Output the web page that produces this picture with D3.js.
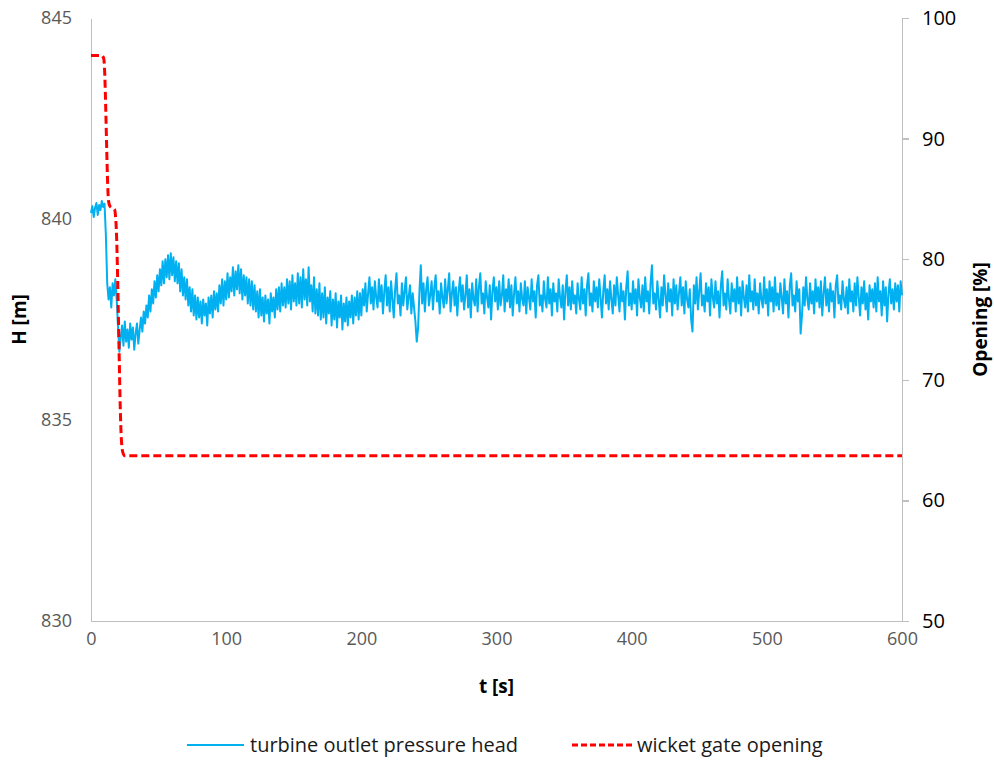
<!DOCTYPE html>
<html lang="en">
<head>
<meta charset="utf-8">
<title>Turbine outlet pressure head</title>
<script type="text/javascript" src="https://cdn.jsdelivr.net/npm/d3@7/dist/d3.min.js"></script>
<style type="text/css">
	body { margin: 0; background-color: white; }
	svg text { font-family: "Open Sans", sans-serif; }
	.axis path, .axis line { stroke: #bfbfbf; stroke-width: 1.5; shape-rendering: crispEdges; }
	.left text, .bottom text { fill: #595959; font-size: 18px; }
	.right text { fill: #000; font-size: 20px; }
	.title { font-weight: bold; font-size: 19px; fill: #000; }
	.legend text { font-size: 20px; fill: #1a1a1a; }
</style>
</head>
<body>
<script type="text/javascript">
// ticks
var tTicks = [0, 100, 200, 300, 400, 500, 600];
var hTicks = [830, 835, 840, 845];
var openTicks = [50, 60, 70, 80, 90, 100];

// turbine outlet pressure head H [m], one sample per second from t = 0
var sampleStep = 1;
var headValues = [
	840.15, 840.32, 840.05, 840.28, 840.40, 840.10, 840.35, 840.22, 840.45, 840.30,
	840.38, 839.60, 838.40, 838.00, 838.30, 837.80, 838.40, 838.10, 838.50, 838.00,
	837.30, 836.70, 837.05, 837.35, 836.85, 837.45, 836.95, 837.25, 836.80, 837.40,
	837.00, 837.30, 836.75, 837.15, 837.40, 836.90, 837.25, 837.55, 837.20, 837.70,
	837.40, 837.85, 837.55, 838.10, 837.70, 838.25, 837.90, 838.45, 838.05, 838.60,
	838.20, 838.75, 838.35, 838.95, 838.40, 839.00, 838.55, 839.10, 838.50, 839.15,
	838.60, 839.05, 838.45, 838.95, 838.40, 838.90, 838.20, 838.75, 838.10, 838.55,
	838.00, 838.50, 837.85, 838.30, 837.70, 838.25, 837.60, 838.10, 837.50, 838.05,
	837.55, 837.95, 837.40, 838.00, 837.60, 837.90, 837.35, 838.05, 837.65, 838.10,
	837.55, 838.20, 837.75, 838.15, 837.70, 838.35, 837.90, 838.50, 837.85, 838.45,
	838.00, 838.65, 838.05, 838.55, 838.20, 838.80, 838.10, 838.70, 838.25, 838.85,
	838.15, 838.75, 838.00, 838.60, 838.10, 838.55, 837.90, 838.50, 837.85, 838.45,
	837.75, 838.35, 837.70, 838.20, 837.55, 838.25, 837.60, 838.05, 837.45, 838.10,
	837.65, 838.00, 837.40, 838.15, 837.70, 838.05, 837.55, 838.25, 837.75, 838.30,
	837.70, 838.40, 837.85, 838.30, 837.80, 838.50, 837.90, 838.45, 837.75, 838.60,
	837.95, 838.40, 837.85, 838.65, 837.90, 838.55, 837.80, 838.75, 838.00, 838.50,
	837.85, 838.80, 837.95, 838.35, 837.70, 838.55, 837.65, 838.25, 837.60, 838.40,
	837.50, 838.15, 837.55, 838.30, 837.40, 838.05, 837.65, 838.20, 837.35, 838.00,
	837.50, 838.15, 837.30, 837.95, 837.55, 838.10, 837.25, 837.90, 837.45, 838.05,
	837.35, 837.95, 837.55, 838.10, 837.40, 838.05, 837.60, 838.20, 837.50, 838.15,
	837.60, 838.25, 837.85, 838.40, 837.70, 838.15, 838.55, 837.90, 838.30, 837.75,
	838.45, 838.05, 837.80, 838.50, 837.95, 838.35, 837.65, 838.20, 838.60, 837.85,
	838.30, 837.70, 838.45, 838.00, 837.55, 838.25, 838.65, 837.90, 838.10, 837.60,
	838.40, 837.85, 838.20, 838.55, 837.75, 838.05, 838.35, 837.65, 838.15, 837.80,
	837.45, 836.95, 837.30, 838.20, 838.85, 837.90, 838.40, 837.70, 838.25, 838.55,
	837.85, 838.10, 838.45, 837.75, 838.30, 838.60, 837.95, 838.20, 837.65, 838.40,
	838.05, 837.80, 838.50, 837.90, 838.25, 838.65, 837.70, 838.15, 838.45, 837.85,
	838.30, 837.60, 838.20, 838.55, 837.95, 838.35, 837.75, 838.10, 838.60, 837.80,
	838.25, 837.55, 838.40, 838.00, 837.85, 838.50, 837.70, 838.30, 838.65, 837.90,
	838.15, 837.65, 838.45, 838.05, 837.80, 838.35, 837.50, 838.20, 838.55, 837.95,
	838.30, 837.75, 838.45, 837.85, 838.10, 838.60, 837.70, 838.25, 837.95, 838.50,
	837.80, 838.35, 837.60, 838.15, 838.55, 837.90, 838.20, 837.70, 838.40, 838.00,
	837.85, 838.45, 837.65, 838.30, 838.05, 837.75, 838.50, 837.95, 838.20, 837.55,
	838.35, 838.60, 837.85, 838.10, 837.70, 838.45, 838.00, 837.80, 838.55, 837.90,
	838.25, 837.60, 838.40, 837.95, 838.15, 837.70, 838.50, 838.05, 837.80, 838.35,
	837.50, 838.20, 838.60, 837.85, 838.30, 837.75, 838.45, 837.90, 838.10, 837.65,
	838.40, 838.00, 837.75, 838.55, 837.90, 838.25, 837.60, 838.35, 838.65, 837.85,
	838.15, 837.70, 838.45, 837.95, 838.30, 837.80, 838.50, 838.05, 837.55, 838.20,
	838.60, 837.90, 838.25, 837.75, 838.45, 838.00, 837.65, 838.35, 837.85, 838.55,
	838.10, 837.70, 838.40, 837.95, 838.20, 837.50, 838.30, 838.70, 837.85, 838.15,
	837.75, 838.45, 837.90, 838.25, 837.60, 838.50, 838.05, 837.80, 838.35, 837.70,
	838.55, 837.95, 838.20, 837.65, 838.40, 838.85, 837.90, 838.15, 837.75, 838.45,
	838.00, 837.55, 838.30, 837.85, 838.60, 838.10, 837.70, 838.40, 837.95, 838.25,
	837.60, 838.50, 837.90, 838.35, 837.75, 838.15, 838.55, 837.85, 838.30, 837.65,
	838.45, 838.00, 837.80, 838.25, 837.50, 837.20, 838.35, 837.90, 838.55, 837.75,
	838.20, 838.65, 837.85, 838.10, 837.70, 838.40, 837.95, 838.30, 837.60, 838.50,
	838.05, 837.80, 838.45, 837.90, 838.20, 837.55, 838.35, 838.70, 837.85, 838.15,
	837.75, 838.50, 838.00, 837.65, 838.40, 837.95, 838.25, 837.70, 838.55, 837.90,
	838.30, 837.60, 838.45, 838.05, 837.80, 838.35, 837.70, 838.60, 837.95, 838.20,
	837.75, 838.50, 837.85, 838.15, 837.65, 838.40, 838.00, 837.80, 838.55, 837.90,
	838.25, 837.60, 838.45, 837.95, 838.30, 837.70, 838.55, 837.85, 838.15, 837.75,
	838.40, 838.05, 837.65, 838.50, 837.90, 838.20, 837.55, 838.35, 838.65, 837.85,
	838.10, 837.70, 838.45, 837.95, 838.25, 837.15, 837.60, 838.30, 837.85, 838.55,
	838.00, 837.75, 838.40, 837.90, 838.20, 837.65, 838.50, 837.95, 838.30, 837.80,
	838.45, 837.60, 838.15, 838.55, 837.85, 838.25, 837.70, 838.40, 837.95, 838.20,
	837.55, 838.35, 838.60, 837.90, 838.10, 837.75, 838.45, 838.00, 837.80, 838.30,
	837.65, 838.50, 837.95, 838.20, 837.70, 838.40, 837.85, 838.55, 838.05, 837.60,
	838.30, 837.90, 838.45, 837.75, 838.15, 837.50, 838.35, 837.95, 838.25, 837.80,
	838.40, 837.70, 838.55, 837.95, 838.20, 837.60, 838.45, 837.85, 838.30, 837.45,
	838.15, 838.50, 837.90, 838.25, 837.75, 838.40, 837.95, 838.35, 837.70, 838.45,
	838.10
];

// wicket gate opening [%]
var gateTimes  = [0, 8, 9.5, 13, 14, 17.5, 18.5, 22.5, 23.5, 25, 600];
var gateValues = [96.9, 96.9, 96.6, 84.8, 84.4, 84.1, 83.0, 65.0, 64.0, 63.7, 63.7];

var margin = {top: 18, right: 92, bottom: 139, left: 91};
var W = 994, H = 760;
var width = W - margin.left - margin.right,
	height = H - margin.top - margin.bottom;

var svg_base = d3.select("body").append("svg")
	.attr("width", W)
	.attr("height", H);

var svg = svg_base.append("g")
	.attr("transform", "translate(" + margin.left + "," + margin.top + ")");

var xScale = d3.scaleLinear().domain([0, 600]).range([0, width]);
var yScale = d3.scaleLinear().domain([830, 845]).range([height, 0]);
var y2Scale = d3.scaleLinear().domain([50, 100]).range([height, 0]);

// axes
svg.append("g")
	.attr("class", "axis bottom")
	.attr("transform", "translate(0," + height + ")")
	.call(d3.axisBottom(xScale).tickValues(tTicks).tickSize(0).tickPadding(20))
	.call(function(g) { g.selectAll("text").attr("dy", "0.2em"); });

svg.append("g")
	.attr("class", "axis left")
	.call(d3.axisLeft(yScale).tickValues(hTicks).tickSize(0).tickPadding(19));

svg.append("g")
	.attr("class", "axis right")
	.attr("transform", "translate(" + width + ",0)")
	.call(d3.axisRight(y2Scale).tickValues(openTicks).tickSize(7).tickSizeOuter(7).tickPadding(13));

// series
var headData = headValues.map(function(v, i) { return {t: i * sampleStep, v: v}; });
var gateData = gateTimes.map(function(t, i) { return {t: t, v: gateValues[i]}; });

svg.append("path")
	.datum(headData)
	.attr("fill", "none")
	.attr("stroke", "#00b0f0")
	.attr("stroke-width", 2)
	.attr("stroke-linejoin", "round")
	.attr("d", d3.line()
		.x(function(d) { return xScale(d.t); })
		.y(function(d) { return yScale(d.v); }));

svg.append("path")
	.datum(gateData)
	.attr("fill", "none")
	.attr("stroke", "#ff0000")
	.attr("stroke-width", 3)
	.attr("stroke-dasharray", "8,4")
	.attr("d", d3.line()
		.x(function(d) { return xScale(d.t); })
		.y(function(d) { return y2Scale(d.v); })
		.curve(d3.curveMonotoneX));

// titles
svg_base.append("text")
	.attr("class", "title")
	.attr("text-anchor", "middle")
	.attr("x", margin.left + xScale(300))
	.attr("y", 693)
	.text("t [s]");

svg_base.append("text")
	.attr("class", "title")
	.attr("text-anchor", "middle")
	.attr("transform", "translate(26," + (margin.top + height / 2) + ") rotate(-90)")
	.text("H [m]");

svg_base.append("text")
	.attr("class", "title")
	.attr("text-anchor", "middle")
	.attr("transform", "translate(987," + (margin.top + height / 2) + ") rotate(-90)")
	.text("Opening [%]");

// legend
var legend = svg_base.append("g").attr("class", "legend");
legend.append("line")
	.attr("x1", 187).attr("x2", 244).attr("y1", 745).attr("y2", 745)
	.attr("stroke", "#00b0f0").attr("stroke-width", 2);
legend.append("text").attr("x", 250).attr("y", 752).text("turbine outlet pressure head");
legend.append("line")
	.attr("x1", 572).attr("x2", 634).attr("y1", 745).attr("y2", 745)
	.attr("stroke", "#ff0000").attr("stroke-width", 3).attr("stroke-dasharray", "6,3");
legend.append("text").attr("x", 637).attr("y", 752).text("wicket gate opening");
</script>
</body>
</html>
